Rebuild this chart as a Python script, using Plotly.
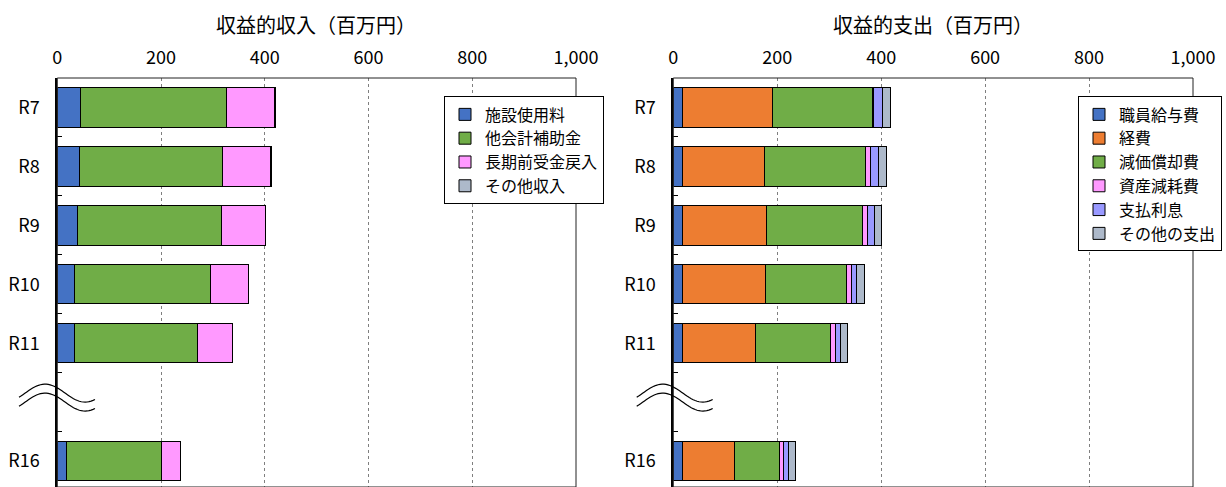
import numpy as np
import plotly.graph_objects as go

# Fiscal years (blank slot marks the break between R11 and R16)
years = ["R7", "R8", "R9", "R10", "R11", " ", "R16"]

# 収益的収入 (百万円)
inc_facility = [44, 42, 39, 34, 33, None, 18]      # 施設使用料
inc_subsidy = [282, 277, 277, 262, 238, None, 182]  # 他会計補助金
inc_deferred = [92, 92, 85, 72, 66, None, 37]       # 長期前受金戻入
inc_other = [2, 1, 1, 1, 1, None, 1]                # その他収入

# 収益的支出 (百万円)
exp_staff = [17, 17, 17, 17, 17, None, 17]          # 職員給与費
exp_cost = [174, 158, 163, 160, 142, None, 101]     # 経費
exp_deprec = [193, 194, 184, 156, 144, None, 87]    # 減価償却費
exp_asset = [2, 11, 10, 10, 10, None, 8]            # 資産減耗費
exp_interest = [17, 15, 13, 10, 9, None, 9]         # 支払利息
exp_other = [14, 15, 14, 15, 14, None, 14]          # その他の支出

xticks = [0, 200, 400, 600, 800, 1000]

FONT = "Noto Sans CJK JP"
W, H = 1226, 487
TOP = 77.5

C_BLUE = "#4472C4"
C_ORANGE = "#ED7D31"
C_GREEN = "#70AD47"
C_PINK = "#FF99FF"
C_PURPLE = "#9999FF"
C_GRAY = "#ADB9CA"

fig = go.Figure()

income = [
    ("施設使用料", inc_facility, C_BLUE),
    ("他会計補助金", inc_subsidy, C_GREEN),
    ("長期前受金戻入", inc_deferred, C_PINK),
    ("その他収入", inc_other, C_GRAY),
]
expense = [
    ("職員給与費", exp_staff, C_BLUE),
    ("経費", exp_cost, C_ORANGE),
    ("減価償却費", exp_deprec, C_GREEN),
    ("資産減耗費", exp_asset, C_PINK),
    ("支払利息", exp_interest, C_PURPLE),
    ("その他の支出", exp_other, C_GRAY),
]

for name, vals, col in income:
    fig.add_trace(go.Bar(
        y=years, x=vals, name=name, orientation="h",
        marker=dict(color=col, line=dict(color="black", width=1)),
        xaxis="x", yaxis="y", legend="legend", legendgroup="i" + name,
    ))

for name, vals, col in expense:
    fig.add_trace(go.Bar(
        y=years, x=vals, name=name, orientation="h",
        marker=dict(color=col, line=dict(color="black", width=1)),
        xaxis="x2", yaxis="y2", legend="legend2", legendgroup="e" + name,
    ))


def px_x(v):
    return v / W


def px_y(v):
    return (H - v) / (H - TOP)


xaxis_common = dict(
    range=[0, 1000], side="top", tickvals=xticks, tickformat=",d",
    showgrid=True, gridcolor="#7f7f7f", griddash="dot", gridwidth=1,
    showline=False, zeroline=False, ticks="",
    ticklabelstandoff=9, automargin=False,
    tickfont=dict(family=FONT, size=18, color="black"),
    fixedrange=True,
)
yaxis_common = dict(
    type="category", categoryorder="array", categoryarray=years,
    range=[6.44, -0.5], showgrid=False,
    showline=True, linecolor="black", linewidth=2,
    ticks="inside", tickson="boundaries", ticklen=5, tickcolor="black",
    ticklabelstandoff=12, automargin=False,
    tickfont=dict(family=FONT, size=18, color="black"),
    fixedrange=True,
)

legend_common = dict(
    xanchor="right", yanchor="top",
    traceorder="normal", tracegroupgap=4,
    bgcolor="white", bordercolor="black", borderwidth=1,
    font=dict(family=FONT, size=16, color="black"),
    itemwidth=30,
)

fig.update_layout(
    width=W, height=H,
    margin=dict(l=0, r=0, t=TOP, b=0, autoexpand=False),
    paper_bgcolor="white", plot_bgcolor="white",
    barmode="stack", bargap=0.332,
    font=dict(family=FONT, color="black"),
    xaxis=dict(domain=[px_x(57.3), px_x(576)], anchor="y", **xaxis_common),
    yaxis=dict(domain=[0, 1], anchor="x", **yaxis_common),
    xaxis2=dict(domain=[px_x(673.3), px_x(1193)], anchor="y2", **xaxis_common),
    yaxis2=dict(domain=[0, 1], anchor="x2", **yaxis_common),
    legend=dict(x=px_x(604), y=px_y(96), **legend_common),
    legend2=dict(x=px_x(1222), y=px_y(96), **legend_common),
    annotations=[
        dict(text="収益的収入（百万円）", x=px_x(316.5), y=px_y(24),
             xref="paper", yref="paper", showarrow=False,
             xanchor="center", yanchor="middle",
             font=dict(family=FONT, size=20, color="black")),
        dict(text="収益的支出（百万円）", x=px_x(933), y=px_y(24),
             xref="paper", yref="paper", showarrow=False,
             xanchor="center", yanchor="middle",
             font=dict(family=FONT, size=20, color="black")),
    ],
)


# wavy break marks across the value axis
def wave_path(x0, y0, width=76, amp=9, n=40):
    t = np.linspace(0, 1, n)
    xs = x0 + t * width
    ys = y0 - amp * np.sin(2 * np.pi * (t - 0.08) * 0.95)
    pts = [f"{px_x(a):.5f},{px_y(b):.5f}" for a, b in zip(xs, ys)]
    return "M" + " L".join(pts)


shapes = []
# thin frame around each plot area
for xr, yr in (("x domain", "y domain"), ("x2 domain", "y2 domain")):
    shapes.append(dict(
        type="rect", xref=xr, yref=yr, x0=0, x1=1, y0=0, y1=1,
        line=dict(color="#222222", width=1), layer="above",
    ))
for ax0 in (19, 636.7):
    for dy in (393, 402):
        shapes.append(dict(
            type="path", xref="paper", yref="paper",
            path=wave_path(ax0, dy),
            line=dict(color="black", width=1.2),
        ))
fig.update_layout(shapes=shapes)

fig.write_html("out.html")
